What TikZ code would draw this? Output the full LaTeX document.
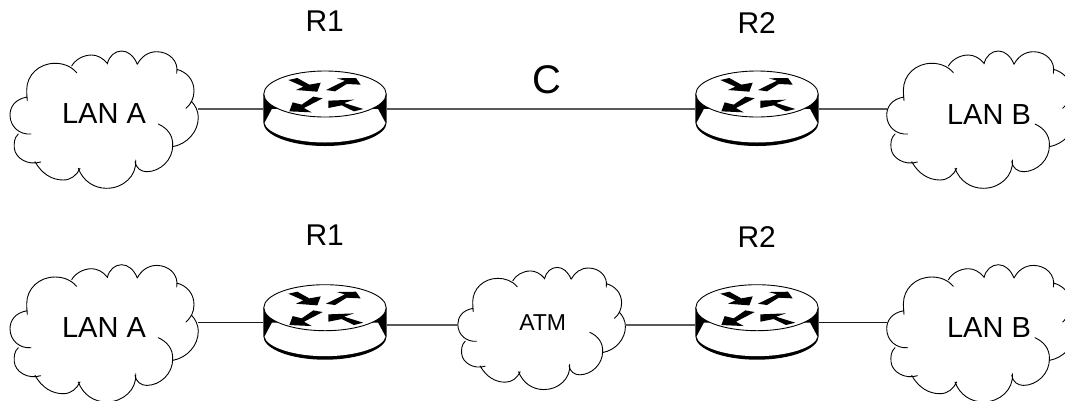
\documentclass[tikz,border=0pt]{standalone}
\usepackage{fontspec}
\setmainfont{Liberation Sans}
\tikzset{
  cloudline/.style={line width=0.9pt,line cap=round},
  link/.style={line width=1.4pt,black!65},
  thinlink/.style={line width=1pt,black!90},
  anchorbox/.style={inner sep=0pt,outer sep=0pt,draw=none},
  lanlabel/.style={inner sep=0pt,font=\fontsize{29}{29}\selectfont},
  rlabel/.style={inner sep=0pt,font=\fontsize{30}{30}\selectfont},
}
% #1 name, #2 x centre, #3 link y, #4 scale
\newcommand{\mycloud}[4]{%
  \node[anchorbox,minimum width=#4*188.3pt,minimum height=2pt] (#1) at (#2,#3) {};
  \begin{scope}[shift={(#2,#3)},scale=#4,shift={(-104,-109)}]
    \draw[cloudline]
      (27.3,97) .. controls (15,99) and (10,107) .. (10,115) .. controls (10,127) and (20,135) .. (31,134)
      (18.3,134) .. controls (14,138) and (14,143) .. (14.3,148) .. controls (15,158) and (28,166) .. (40.7,162)
      (35,161.7) .. controls (42,174) and (52,180) .. (63.3,180) .. controls (71,180) and (77,175) .. (80,168.3)
      (78.3,168.3) .. controls (83,181) and (94,188.3) .. (106.7,188.3) .. controls (123,188.3) and (137,176) .. (135.7,160)
      (135,161.7) .. controls (136,168) and (141,171.7) .. (146.7,171.7) .. controls (160,171.7) and (173,160) .. (172.7,145)
      (158.3,124) .. controls (167,128) and (173,135) .. (172.7,145)
      (172.7,146.7) .. controls (187,144) and (198.3,132) .. (198.3,117.3) .. controls (198.3,111) and (195,105) .. (191.7,101.7)
      (186,108.3) .. controls (191,104) and (194,98) .. (194,91) .. controls (194,80) and (187,72) .. (176.7,69.3)
      (176.7,73.3) .. controls (179,61) and (169,51.7) .. (156.7,51.7) .. controls (148,51.7) and (141,57) .. (137.3,64.3)
      (137.3,64.3) .. controls (134,56) and (128,51) .. (121.7,51) .. controls (115,51) and (109,56) .. (107.3,64)
      (107.3,63.3) .. controls (103,58) and (97,55) .. (91.7,55) .. controls (83,55) and (75,60) .. (71.7,66)
      (76.7,72.7) .. controls (71,66) and (63,63.3) .. (55,63.3) .. controls (39,63.3) and (26.7,75) .. (26.7,90) .. controls (26.7,94) and (27,97) .. (27.3,100.7);
  \end{scope}}
% #1 name, #2 x centre, #3 link y
\newcommand{\myrouter}[3]{%
  \node[anchorbox,minimum width=123.4pt,minimum height=2pt] (#1) at (#2,#3) {};
  \begin{scope}[shift={(#2,#3)},shift={(0,-15)}]
    \fill (-61.7,0) -- (-61.7,28.3) .. controls (-61.7,41.4) and (-34,52) .. (0,52) .. controls (34,52) and (61.7,41.4) .. (61.7,28.3) -- (61.7,0) -- cycle;
    \fill[white] (-53,15) -- (-60.5,29) .. controls (-58,40) and (-30,48.5) .. (0,48.5) .. controls (30,48.5) and (58,40) .. (60.5,29) -- (53,15) -- cycle;
    \draw[line width=0.9pt,fill=white] (0,0) ellipse[x radius=61.2,y radius=23];
    \begin{scope}[x=0.3333pt,y=-0.3333pt,shift={(-975,-190)}]
      \fill (865,148) -- (892,142) -- (928,162) -- (962,156) -- (952,183) -- (888,178) -- (910,168) -- cycle;
      \fill (978,178) -- (1005,182) -- (1040,160) -- (1082,162) -- (1068,142) -- (1010,143) -- (1035,150) -- cycle;
      \fill (968,203) -- (940,198) -- (905,222) -- (878,215) -- (868,242) -- (935,245) -- (912,232) -- cycle;
      \fill (1090,235) -- (1062,242) -- (1025,224) -- (985,232) -- (985,210) -- (1062,207) -- (1032,217) -- cycle;
    \end{scope}
  \end{scope}}
\begin{document}
\begin{tikzpicture}[x=1pt,y=-1pt]
  \useasboundingbox (0,0) rectangle (1065,400);
  \clip (0,0) rectangle (1065,400);
  \mycloud{lanat}{104}{109}{1}
  \mycloud{lanbt}{980.7}{109}{1}
  \mycloud{lanab}{104}{322.7}{1}
  \mycloud{lanbb}{980.7}{322.7}{1}
  \mycloud{atm}{541.5}{319}{0.89}
  \myrouter{rat}{325}{109}
  \myrouter{rbt}{757}{109}
  \myrouter{rab}{325}{322.7}
  \myrouter{rbb}{757}{322.7}
  \draw[link] (lanat.east) -- (rat.west);
  \draw[link] (rat.east) -- (rbt.west);
  \draw[link] (rbt.east) -- (lanbt.west);
  \draw[thinlink] (lanab.east) -- (rab.west);
  \draw[link] ([yshift=-2.3pt]rab.east) -- ([yshift=-6pt]atm.west);
  \draw[link] ([yshift=-6pt]atm.east) -- ([yshift=-2.3pt]rbb.west);
  \draw[thinlink] (rbb.east) -- (lanbb.west);
  \node[lanlabel] (la1) at (104,114) {LAN A};
  \node[lanlabel] (lb1) at (989,114.3) {LAN B};
  \node[lanlabel] (la2) at (104,328) {LAN A};
  \node[lanlabel] (lb2) at (989,328) {LAN B};
  \node[inner sep=0pt,font=\fontsize{23}{23}\selectfont] (al) at (542.7,322.8) {ATM};
  \node[rlabel] (r1a) at (324.7,21.3) {R1};
  \node[rlabel] (r2a) at (756.7,23.3) {R2};
  \node[rlabel] (r1b) at (324.7,235) {R1};
  \node[rlabel] (r2b) at (756.7,237.5) {R2};
  \node[inner sep=0pt,font=\fontsize{40}{40}\selectfont] (c) at (546.7,80) {C};
\end{tikzpicture}
\end{document}
